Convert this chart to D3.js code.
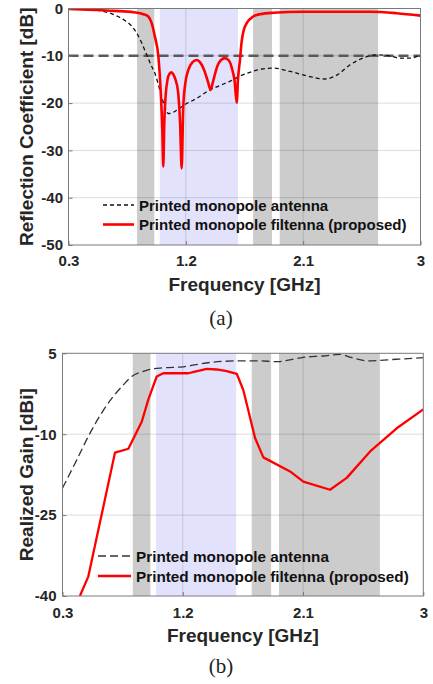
<!DOCTYPE html>
<html>
<head>
<meta charset="utf-8">
<script src="https://cdn.jsdelivr.net/npm/d3@7"></script>
<style>
  body { margin: 0; background: #fff; }
  svg text { font-family: "Liberation Sans", Arial, sans-serif; }
</style>
</head>
<body>
<script>
// frequency axis + shaded bands (GHz)
const xTicks = [0.3, 1.2, 2.1, 3];
const grayBands = [[0.826, 0.958], [1.716, 1.861], [1.92, 2.675]];
const blueBand = [1.0, 1.6];
const legendLabels = ["Printed monopole antenna", "Printed monopole filtenna (proposed)"];

// (a) reflection coefficient
const s11Ticks = [0, -10, -20, -30, -40, -50];
const s11Limit = -10;
const s11AntFreq = [0.3, 0.4, 0.5, 0.55, 0.62, 0.68, 0.73, 0.78, 0.823, 0.86, 0.9, 0.93, 0.963, 1.0, 1.035, 1.066, 1.1, 1.13, 1.2, 1.283, 1.385, 1.46, 1.538, 1.615, 1.68, 1.75, 1.87, 2.0, 2.15, 2.267, 2.357, 2.46, 2.587, 2.66, 2.765, 2.84, 2.92, 3.0];
const s11Ant = [0, -0.1, -0.3, -0.5, -1.0, -1.7, -2.5, -3.6, -5.2, -7.2, -9.8, -11.8, -13.7, -17.2, -20.5, -22.2, -22.0, -21.5, -20.2, -19.0, -17.2, -16.3, -15.4, -14.3, -13.6, -13.0, -12.6, -13.3, -14.4, -14.9, -14.1, -11.9, -10.2, -9.8, -10.0, -10.5, -10.5, -9.8];
const s11FilFreq = [0.3, 0.5, 0.65, 0.8, 0.874, 0.912, 0.938, 0.963, 0.989, 1.0, 1.01, 1.02, 1.027, 1.035, 1.045, 1.06, 1.075, 1.091, 1.105, 1.12, 1.14, 1.156, 1.168, 1.18, 1.195, 1.219, 1.25, 1.283, 1.31, 1.34, 1.37, 1.39, 1.41, 1.44, 1.47, 1.5, 1.53, 1.555, 1.575, 1.59, 1.6, 1.615, 1.628, 1.645, 1.667, 1.717, 1.77, 1.87, 2.1, 2.61, 2.817, 3.0];
const s11Fil = [-0.1, -0.3, -0.5, -0.8, -1.2, -1.7, -3.1, -6.0, -10, -14, -19, -26, -33.4, -24, -18.5, -15, -13.8, -13.5, -14.0, -15.0, -17.5, -24.3, -33.8, -21, -16, -13, -11.4, -10.9, -11.4, -13, -15.5, -17.2, -15.3, -12.3, -10.9, -10.5, -11, -12.8, -15.5, -19.9, -15, -10.9, -7, -4.5, -3.1, -1.7, -1.2, -0.9, -0.7, -0.7, -1.0, -1.5];

// (b) realized gain
const gainTicks = [5, -10, -25, -40];
const gainAntFreq = [0.3, 0.406, 0.506, 0.6, 0.68, 0.75, 0.818, 0.9, 0.955, 1.05, 1.204, 1.3, 1.404, 1.5, 1.629, 1.75, 1.915, 2.0, 2.102, 2.25, 2.377, 2.45, 2.589, 2.8, 3.0];
const gainAnt = [-20, -14.8, -9.8, -5.8, -3.0, -1.0, 0.7, 1.6, 2.0, 2.3, 2.5, 2.9, 3.3, 3.5, 3.6, 3.6, 3.45, 3.8, 4.25, 4.5, 4.8, 4.3, 3.6, 3.9, 4.2];
const gainFilFreq = [0.43, 0.493, 0.693, 0.793, 0.893, 0.942, 1.005, 1.055, 1.242, 1.292, 1.379, 1.454, 1.529, 1.604, 1.653, 1.741, 1.803, 2.003, 2.102, 2.302, 2.427, 2.602, 2.801, 3.0];
const gainFil = [-40, -36.4, -13.4, -12.7, -7.7, -3.6, 0.7, 1.3, 1.3, 1.6, 2.1, 2.0, 1.7, 1.2, -1.8, -10.7, -14.3, -16.9, -18.8, -20.3, -18.1, -13.2, -8.9, -5.4];

const svg = d3.select("body").append("svg")
  .attr("width", 433)
  .attr("height", 684);

function drawPanel(p) {
  const x = d3.scaleLinear().domain([0.3, 3]).range([p.left, p.right]);
  const y = d3.scaleLinear().domain(p.yDomain).range([p.bottom, p.top]);
  const g = svg.append("g");

  g.append("clipPath").attr("id", p.id + "clip")
    .append("rect")
    .attr("x", p.left).attr("y", p.top)
    .attr("width", p.right - p.left).attr("height", p.bottom - p.top);

  g.selectAll(".gray").data(grayBands).enter().append("rect")
    .attr("x", d => x(d[0])).attr("y", p.top)
    .attr("width", d => x(d[1]) - x(d[0]))
    .attr("height", p.bottom - p.top)
    .attr("fill", "#cccccc");

  g.append("rect")
    .attr("x", x(blueBand[0])).attr("y", p.top)
    .attr("width", x(blueBand[1]) - x(blueBand[0]))
    .attr("height", p.bottom - p.top)
    .attr("fill", "#e2e2fd");

  // grid
  g.selectAll(".vgrid").data(xTicks.slice(1, -1)).enter().append("line")
    .attr("x1", d => x(d)).attr("x2", d => x(d))
    .attr("y1", p.top).attr("y2", p.bottom)
    .attr("stroke", "rgba(0,0,0,0.14)");
  g.selectAll(".hgrid").data(p.yTicks.slice(1, -1)).enter().append("line")
    .attr("y1", d => y(d)).attr("y2", d => y(d))
    .attr("x1", p.left).attr("x2", p.right)
    .attr("stroke", "rgba(0,0,0,0.14)");

  const plot = g.append("g").attr("clip-path", `url(#${p.id}clip)`);

  if (p.limit !== undefined) {
    plot.append("line")
      .attr("x1", p.left).attr("x2", p.right)
      .attr("y1", y(p.limit)).attr("y2", y(p.limit))
      .attr("stroke", "#595959")
      .attr("stroke-width", 2.4)
      .attr("stroke-dasharray", "10,5");
  }

  const lineAnt = d3.line()
    .x((d, i) => x(p.antFreq[i])).y(d => y(d))
    .curve(d3.curveMonotoneX);
  const lineFil = d3.line()
    .x((d, i) => x(p.filFreq[i])).y(d => y(d))
    .curve(p.filCurve);

  plot.append("path").datum(p.ant)
    .attr("d", lineAnt)
    .attr("fill", "none")
    .attr("stroke", p.antColor)
    .attr("stroke-width", 1.3)
    .attr("stroke-dasharray", p.antDash);

  plot.append("path").datum(p.fil)
    .attr("d", lineFil)
    .attr("fill", "none")
    .attr("stroke", "#ff0000")
    .attr("stroke-width", p.filWidth)
    .attr("stroke-linejoin", "round");

  // axes
  const xAxis = g.append("g")
    .attr("transform", `translate(0,${p.bottom})`)
    .call(d3.axisBottom(x).tickValues(xTicks).tickFormat(d3.format("")).tickSize(-4).tickPadding(p.xPad));
  const yAxis = g.append("g")
    .attr("transform", `translate(${p.left},0)`)
    .call(d3.axisLeft(y).tickValues(p.yTicks).tickFormat(d => d).tickSize(-4).tickPadding(p.yPad));
  [xAxis, yAxis].forEach(a => {
    a.select(".domain").remove();
    a.selectAll("line").attr("stroke", "#777");
    a.selectAll("text")
      .attr("fill", "#262626")
      .style("font-size", "15px")
      .style("font-weight", "bold");
  });
  yAxis.selectAll("text").text(d => d < 0 ? "-" + Math.abs(d) : d);

  g.append("rect")
    .attr("x", p.left).attr("y", p.top)
    .attr("width", p.right - p.left).attr("height", p.bottom - p.top)
    .attr("fill", "none")
    .attr("stroke", "#7a7a7a");

  // legend
  p.legendRows.forEach((ly, i) => {
    g.append("line")
      .attr("x1", p.legendX).attr("x2", p.legendX + p.legendLen)
      .attr("y1", ly).attr("y2", ly)
      .attr("stroke", i === 0 ? p.antColor : "#ff0000")
      .attr("stroke-width", i === 0 ? 1.3 : p.filWidth)
      .attr("stroke-dasharray", i === 0 ? p.antDash : null);
    g.append("text")
      .attr("x", p.legendX + p.legendLen + 5)
      .attr("y", ly + 5.5)
      .attr("fill", "#111")
      .style("font-size", p.legendFont)
      .style("font-weight", "bold")
      .text(legendLabels[i]);
  });

  g.append("text")
    .attr("x", (p.left + p.right) / 2)
    .attr("y", p.xLabelY)
    .attr("text-anchor", "middle")
    .attr("fill", "#262626")
    .style("font-size", "19px")
    .style("font-weight", "bold")
    .text("Frequency [GHz]");

  g.append("text")
    .attr("transform", `translate(33,${(p.top + p.bottom) / 2}) rotate(-90)`)
    .attr("text-anchor", "middle")
    .attr("fill", "#262626")
    .style("font-size", "19px")
    .style("font-weight", "bold")
    .text(p.yLabel);

  g.append("text")
    .attr("x", 221)
    .attr("y", p.captionY)
    .attr("text-anchor", "middle")
    .attr("fill", "#222")
    .style("font-family", "'Liberation Serif', 'DejaVu Serif', serif")
    .style("font-size", "21px")
    .text(p.caption);
}

drawPanel({
  id: "a", left: 68.5, right: 420.5, top: 8.5, bottom: 245,
  yDomain: [-50, 0], yTicks: s11Ticks, limit: s11Limit,
  antFreq: s11AntFreq, ant: s11Ant, antColor: "#111", antDash: "4,3",
  filFreq: s11FilFreq, fil: s11Fil, filCurve: d3.curveMonotoneX, filWidth: 2.6,
  xPad: 10, yPad: 5.5,
  legendRows: [205, 224.5], legendX: 103, legendLen: 31, legendFont: "15px",
  xLabelY: 291, yLabel: "Reflection Coefficient [dB]",
  caption: "(a)", captionY: 325
});

drawPanel({
  id: "b", left: 62.5, right: 423.3, top: 353.3, bottom: 596,
  yDomain: [-40, 5], yTicks: gainTicks,
  antFreq: gainAntFreq, ant: gainAnt, antColor: "#333", antDash: "8,4",
  filFreq: gainFilFreq, fil: gainFil, filCurve: d3.curveLinear, filWidth: 2.3,
  xPad: 11, yPad: 6,
  legendRows: [556, 576], legendX: 98, legendLen: 33, legendFont: "15.3px",
  xLabelY: 642, yLabel: "Realized Gain [dBi]",
  caption: "(b)", captionY: 673
});
</script>
</body>
</html>
